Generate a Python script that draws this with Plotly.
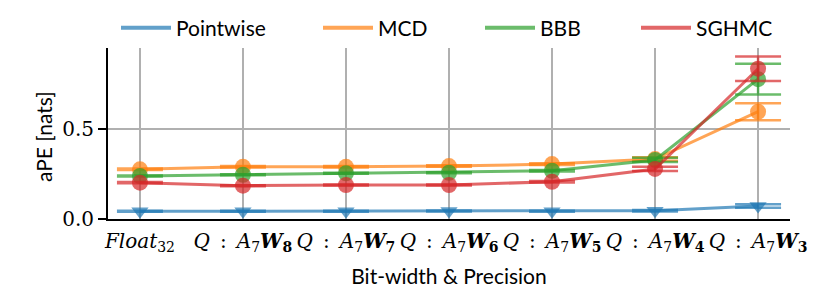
import plotly.graph_objects as go

# ---- data ----
tick_labels = [
    "<i>Float</i><sub>32</sub>",
    "<i>Q</i>\u2002:\u2002<i>A</i><sub>7</sub><b><i>W</i><sub>8</sub></b>",
    "<i>Q</i>\u2002:\u2002<i>A</i><sub>7</sub><b><i>W</i><sub>7</sub></b>",
    "<i>Q</i>\u2002:\u2002<i>A</i><sub>7</sub><b><i>W</i><sub>6</sub></b>",
    "<i>Q</i>\u2002:\u2002<i>A</i><sub>7</sub><b><i>W</i><sub>5</sub></b>",
    "<i>Q</i>\u2002:\u2002<i>A</i><sub>7</sub><b><i>W</i><sub>4</sub></b>",
    "<i>Q</i>\u2002:\u2002<i>A</i><sub>7</sub><b><i>W</i><sub>3</sub></b>",
]
series_names = ["Pointwise", "MCD", "BBB", "SGHMC"]
pointwise = [0.043, 0.043, 0.043, 0.044, 0.043, 0.046, 0.072]
pointwise_err = [0.003, 0.003, 0.003, 0.003, 0.003, 0.004, 0.010]
mcd = [0.276, 0.290, 0.290, 0.294, 0.305, 0.333, 0.596]
mcd_err = [0.004, 0.004, 0.004, 0.004, 0.005, 0.010, 0.047]
bbb = [0.239, 0.246, 0.254, 0.257, 0.268, 0.328, 0.777]
bbb_err = [0.003, 0.003, 0.003, 0.003, 0.004, 0.012, 0.086]
sghmc = [0.202, 0.185, 0.189, 0.189, 0.207, 0.278, 0.835]
sghmc_err = [0.003, 0.003, 0.003, 0.003, 0.004, 0.012, 0.068]
x_title = "Bit-width &amp; Precision"
y_title = "aPE [nats]"

values = [pointwise, mcd, bbb, sghmc]
errors = [pointwise_err, mcd_err, bbb_err, sghmc_err]
colors = ["rgba(31,119,180,0.7)", "rgba(255,127,14,0.7)",
          "rgba(44,160,44,0.7)", "rgba(214,39,40,0.7)"]
symbols = ["triangle-down", "circle", "circle", "circle"]
sizes = [15, 16, 16, 16]

SANS = "Lato"
SERIF = "DejaVu Serif"

fig = go.Figure()
for name, v, e, c, s, sz in zip(series_names, values, errors, colors, symbols, sizes):
    fig.add_trace(go.Scatter(
        x=tick_labels, y=v, mode="lines+markers", name=name, showlegend=False,
        line=dict(color=c, width=3),
        marker=dict(symbol=s, size=sz, color=c, line=dict(width=0)),
        error_y=dict(type="data", array=e, visible=True, color=c,
                     thickness=2.5, width=23),
    ))

# legend entries (line only), each in its own legend for exact placement
legend_x_px = [116, 318, 480, 636]
W = 682.0
for i, (name, c) in enumerate(zip(series_names, colors)):
    key = "legend" if i == 0 else f"legend{i+1}"
    fig.add_trace(go.Scatter(
        x=[None], y=[None], mode="lines", name=name, legend=key,
        line=dict(color=c, width=4), showlegend=True,
    ))
    fig.update_layout(**{key: dict(
        x=(legend_x_px[i] - 108) / W, xanchor="left",
        y=1 + (48 - 28) / 171.0, yanchor="middle",
        orientation="h", bgcolor="rgba(0,0,0,0)", borderwidth=0,
        font=dict(family=SANS, size=21, color="black"),
        itemwidth=50,
    )})

fig.update_layout(
    width=830, height=291,
    margin=dict(l=108, r=40, t=48, b=72, pad=0, autoexpand=False),
    plot_bgcolor="white", paper_bgcolor="white",
    font=dict(family=SANS, size=21, color="black"),
)
fig.add_annotation(
    text=y_title, textangle=-90, xref="paper", yref="paper",
    x=(43 - 108) / W, y=(219 - 137) / 171.0, xanchor="center", yanchor="middle",
    showarrow=False, font=dict(family=SANS, size=21, color="black"),
)
fig.update_xaxes(
    type="category", range=[-0.31, 6.31],
    showgrid=True, gridcolor="#b0b0b0", gridwidth=2,
    showline=True, linecolor="black", linewidth=2,
    ticks="", tickangle=0, automargin=False, ticklabelstandoff=3,
    tickfont=dict(family=SERIF, size=20, color="black"),
    title=dict(text=x_title, standoff=15,
               font=dict(family=SANS, size=21, color="black")),
    zeroline=False,
)
fig.update_yaxes(
    range=[0, 0.95], tickvals=[0.0, 0.5], ticktext=["0.0", "0.5"],
    showgrid=True, gridcolor="#b0b0b0", gridwidth=2,
    showline=True, linecolor="black", linewidth=2,
    ticks="outside", ticklen=8, tickwidth=2, tickcolor="black",
    ticklabelstandoff=0, automargin=False,
    tickfont=dict(family=SERIF, size=20, color="black"),
    zeroline=False,
)

fig.write_html("out.html", config={"displayModeBar": False},
               post_script="document.body.style.margin='0';")
